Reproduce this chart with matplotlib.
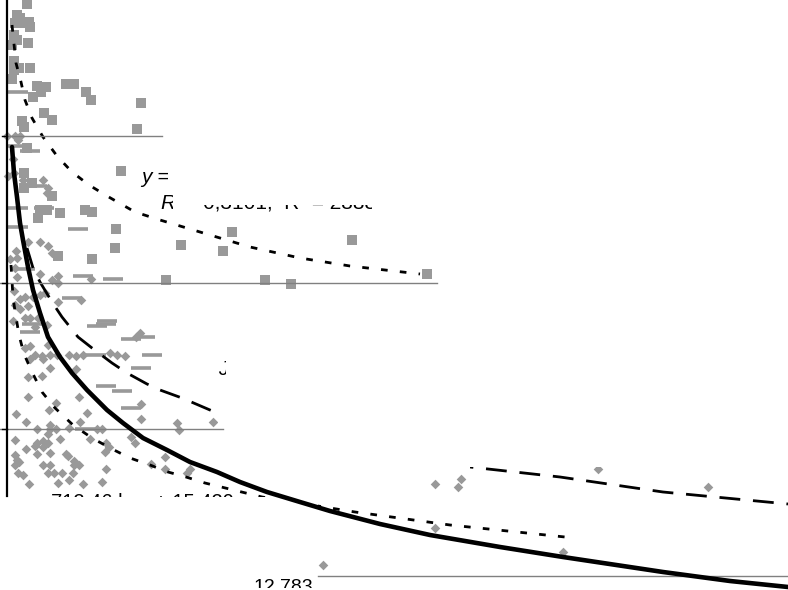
import matplotlib
matplotlib.use("Agg")
import matplotlib.pyplot as plt
from matplotlib.patches import Rectangle

plt.rcParams['font.family'] = ['Liberation Sans', 'DejaVu Sans']

square_pts = [(27,4),(17,15),(20,18),(18,22),(15,23),(20,23),(29,22),(30,27),(14,35),(17,40),(28,43),(12,45),
 (14,61),(19,68),(14,70),(30,68),(12,79),(37,86),(46,87),(41,92),(33,97),(66,84),(74,84),(86,92),(91,100),
 (141,103),(44,113),(52,120),(22,121),(24,127),(137,129),(27,148),(121,171),(24,173),(32,183),(24,188),(52,196),
 (60,213),(92,212),(85,210),(40,210),(47,210),(38,218),(116,229),(115,248),(92,259),(58,256),(181,245),(223,251),
 (232,232),(352,240),(427,274),(166,280),(265,280),(291,284)]
diamond_pts = [(7,136),(15,136),(20,136),(18,140),(13,159),(8,176),(14,173),(43,180),(23,180),(48,188),(47,193),
 (28,242),(40,242),(48,246),(52,253),(16,251),(10,259),(17,258),(15,268),(40,274),(58,276),(17,277),(52,280),(58,283),
 (91,279),(14,291),(45,293),(40,295),(33,297),(25,297),(20,299),(58,302),(81,300),(15,305),(20,309),(28,306),
 (13,321),(25,318),(30,318),(38,318),(47,325),(35,327),(140,333),(136,337),(48,345),(25,348),(30,346),(30,359),
 (35,355),(42,356),(43,359),(50,355),(57,355),(69,355),(76,356),(83,355),(110,353),(117,355),(125,356),(50,368),
 (76,369),(42,376),(28,377),(28,397),(79,397),(56,403),(49,410),(141,404),(141,419),(87,413),(16,414),(26,422),
 (80,422),(213,422),(177,423),(179,430),(37,429),(50,425),(50,429),(56,429),(48,434),(69,428),(97,429),(102,429),
 (15,440),(60,439),(37,443),(35,446),(43,441),(48,443),(43,447),(90,439),(131,437),(135,443),(106,443),(109,447),
 (105,452),(26,449),(37,454),(50,453),(66,454),(68,456),(165,457),(15,455),(17,460),(19,462),(15,465),(74,461),
 (79,465),(74,465),(43,465),(50,465),(151,464),(165,469),(190,469),(187,473),(106,469),(48,473),(54,473),(62,473),
 (73,473),(18,473),(23,475),(69,480),(102,482),(29,484),(58,483),(83,484),(435,484),(461,479),(458,487),(598,469),
 (708,487),(435,528),(563,552),(323,565)]
bar_pts = [(18,92),(17,146),(30,151),(37,186),(18,208),(44,208),(78,229),(18,227),(25,269),(83,276),(113,279),(72,298),
 (107,321),(106,324),(97,326),(32,324),(30,332),(131,339),(145,337),(152,355),(96,355),(141,368),(106,386),(122,391),
 (131,408),(85,429)]

trend_square = [(12,25),(14,44),(16,63),(21,82),(25,100),(32,118),(43,137),(57,156),(72,172),(89,185),(107,196),(135,212),
 (160,220),(200,232),(250,247),(300,258),(350,266),(420,274)]
trend_diamond = [(27,248),(33,268),(40,282),(52,302),(62,317),(78,337),(92,348),(112,363),(127,373),(147,384),
 (160,390),(182,398),(217,413),(470,467),(560,477),(663,492),(788,504)]
trend_lower = [(11,265),(12,280),(13,298),(16,317),(19,335),(24,354),(32,372),(42,392),(55,408),(73,425),(92,438),
 (112,449),(130,458),(150,465),(168,472),(186,477),(205,483),(262,497),(355,512),(450,525),(565,537)]
trend_main = [(12,147),(14,173),(17,197),(20,223),(23,240),(28,267),(33,290),(40,313),(48,337),(60,357),(72,373),
 (87,390),(107,410),(123,423),(143,438),(167,450),(190,462),(217,472),(240,482),(267,492),(300,502),(330,511),
 (380,524),(430,535),(500,547),(563,557),(663,572),(730,581),(788,587)]

grid_levels = [136, 283, 429, 576]
grid_start = [7, 0, 0, 318]
grid_end = [162, 437, 223, 788]

fig = plt.figure(figsize=(7.88, 5.9), dpi=100)
ax = fig.add_axes([0, 0, 1, 1])
ax.set_xlim(0, 788)
ax.set_ylim(590, 0)
ax.axis('off')

gray = '#999999'
ax.scatter(*zip(*square_pts), marker='s', s=44, color=gray, linewidths=0, zorder=2)
ax.scatter(*zip(*diamond_pts), marker='D', s=24, color=gray, linewidths=0, zorder=2)
ax.scatter(*zip(*bar_pts), marker='_', s=190, color=gray, linewidths=2.6, zorder=2)

ax.plot(*zip(*trend_square), color='black', lw=2.0, dashes=(2.4, 4.4), zorder=3)
ax.plot(*zip(*trend_lower), color='black', lw=2.0, dashes=(2.4, 4.4), zorder=3)
ax.plot(*zip(*trend_diamond), color='black', lw=2.0, dashes=(7.5, 4.6), zorder=3)

# white boxes that cover parts of the chart in the reference
for x0, y0, x1, y1 in [(218, 290, 788, 467), (218, 400, 470, 473), (0, 497, 318, 590), (172, 150, 380, 204)]:
    ax.add_patch(Rectangle((x0, y0), x1 - x0, y1 - y0, color='white', lw=0, zorder=4))

for level, a, b in zip(grid_levels, grid_start, grid_end):
    ax.plot([a, b], [level, level], color='#808080', lw=1.0, zorder=5)

ax.plot([7, 7], [0, 496], color='black', lw=1.6, zorder=5)
for level in grid_levels[:3]:
    ax.plot([2, 7], [level, level], color='black', lw=1.0, zorder=5)

def clipped(x, y, s, box, size=15, **kw):
    t = ax.text(x, y, s, fontsize=size, color='black', va='baseline', ha='left', zorder=5, **kw)
    t.set_clip_path(Rectangle((box[0], box[1]), box[2] - box[0], box[3] - box[1], transform=ax.transData))
    t.set_clip_on(True)

clipped(141, 183, 'y =', (135, 160, 168, 192), style='italic')
clipped(160, 209, 'R', (155, 190, 173, 214), style='italic')
clipped(203, 209, '0,3101;  R² = 2888,7', (172, 205, 372, 214))
clipped(218, 375, 'J', (215, 355, 226, 380), style='italic')
clipped(18, 508, 'y = 712,46 ln x + 15,420', (0, 480, 250, 497), size=14.5)
clipped(254, 591, '12,783', (250, 577, 318, 588), size=14)

ax.plot(*zip(*trend_main), color='black', lw=3.3, solid_capstyle='round', solid_joinstyle='round', zorder=6)

fig.savefig('out.png', dpi=100)
